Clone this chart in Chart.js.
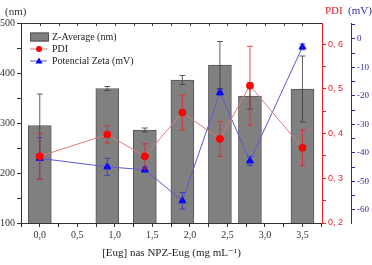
<!DOCTYPE html>
<html>
<head>
<meta charset="utf-8">
<script src="https://cdn.jsdelivr.net/npm/chart.js@4.4.1/dist/chart.umd.min.js"></script>
<style>
  html, body { margin: 0; padding: 0; background: #fff; }
  canvas { display: block; }
</style>
</head>
<body>
<canvas id="grafico" width="372" height="265"></canvas>
<script>
// concentrations of Eug (mg/mL)
var concentracoes = [0.0, 0.9, 1.4, 1.9, 2.4, 2.8, 3.5];

var zAverage    = [295, 369, 286, 386, 416, 354, 368];
var zAverageErr = [63, 4, 4, 9, 47, 26, 66];

var pdi    = [0.349, 0.398, 0.349, 0.447, 0.388, 0.507, 0.368];
var pdiErr = [0.052, 0.019, 0.028, 0.039, 0.039, 0.088, 0.040];

var zeta    = [-41.9, -44.9, -45.9, -56.8, -18.8, -42.8, -2.8];
var zetaErr = [7.3, 3.0, 1.0, 2.9, 1.0, 1.6, 1.0];

var legendaTextos = ['Z-Average (nm)', 'PDI', 'Potencial Zeta (mV)'];

var SERIF = '"Liberation Serif", "DejaVu Serif", serif';
var CINZA = '#333333';
var VERMELHO = '#e8202a';
var AZUL = '#2a2ab0';

function pontos(ys) {
    return concentracoes.map(function(x, i) { return { x: x, y: ys[i] }; });
}

var errosPorDataset = [
    { erro: zAverageErr, cor: '#3a3a3a' },
    { erro: pdiErr, cor: VERMELHO },
    { erro: zetaErr, cor: '#3030d0' }
];

// error bars drawn right after each dataset
var errorBarsPlugin = {
    id: 'errorBars',
    afterDatasetDraw: function(chart, args) {
        var info = errosPorDataset[args.index];
        if (!info) return;
        var ds = chart.data.datasets[args.index];
        var xs = chart.scales.x;
        var ys = chart.scales[ds.yAxisID];
        var ctx = chart.ctx;
        ctx.save();
        ctx.strokeStyle = info.cor;
        ctx.lineWidth = 0.8;
        ds.data.forEach(function(p, i) {
            var px = xs.getPixelForValue(p.x);
            var y1 = ys.getPixelForValue(p.y + info.erro[i]);
            var y2 = ys.getPixelForValue(p.y - info.erro[i]);
            ctx.beginPath();
            ctx.moveTo(px, y1); ctx.lineTo(px, y2);
            ctx.moveTo(px - 3, y1); ctx.lineTo(px + 3, y1);
            ctx.moveTo(px - 3, y2); ctx.lineTo(px + 3, y2);
            ctx.stroke();
        });
        ctx.restore();
    }
};

// top frame line, axis headings and legend inside the plot
var decoracaoPlugin = {
    id: 'decoracao',
    afterDraw: function(chart) {
        var ctx = chart.ctx;
        var a = chart.chartArea;
        var xs = chart.scales.x;
        ctx.save();
        ctx.strokeStyle = CINZA;
        ctx.lineWidth = 1;
        ctx.beginPath();
        ctx.moveTo(a.left, a.top + 0.5); ctx.lineTo(a.right, a.top + 0.5);
        xs.ticks.forEach(function(t) {
            var px = Math.round(xs.getPixelForValue(t.value)) + 0.5;
            if (px <= a.left + 1 || px >= a.right - 1) return;
            ctx.moveTo(px, a.top); ctx.lineTo(px, a.top + 3);
        });
        ctx.stroke();

        ctx.font = '11px ' + SERIF;
        ctx.textBaseline = 'middle';
        ctx.fillStyle = CINZA;
        ctx.textAlign = 'left';
        ctx.fillText('(nm)', 5, 12);
        ctx.fillStyle = VERMELHO;
        ctx.fillText('PDI', 325, 11);
        ctx.fillStyle = AZUL;
        ctx.fillText('(mV)', 348, 11);

        // legend
        var lx = a.left + 9, ly = a.top + 14;
        ctx.font = '10px ' + SERIF;
        ctx.fillStyle = '#808080';
        ctx.strokeStyle = '#505050';
        ctx.fillRect(lx, ly - 4.5, 19, 9);
        ctx.strokeRect(lx + 0.5, ly - 4, 18, 8);
        ctx.fillStyle = '#222';
        ctx.fillText(legendaTextos[0], lx + 22, ly);

        var y2 = ly + 12;
        ctx.strokeStyle = '#e07070';
        ctx.beginPath(); ctx.moveTo(lx, y2); ctx.lineTo(lx + 17, y2); ctx.stroke();
        ctx.fillStyle = '#ff0000';
        ctx.beginPath(); ctx.arc(lx + 9, y2, 3, 0, Math.PI * 2); ctx.fill();
        ctx.fillStyle = '#222';
        ctx.fillText(legendaTextos[1], lx + 22, y2);

        var y3 = ly + 24;
        ctx.strokeStyle = '#5a5ad0';
        ctx.beginPath(); ctx.moveTo(lx, y3); ctx.lineTo(lx + 17, y3); ctx.stroke();
        ctx.fillStyle = '#0000ff';
        ctx.beginPath();
        ctx.moveTo(lx + 9, y3 - 3.5); ctx.lineTo(lx + 12.5, y3 + 2.5); ctx.lineTo(lx + 5.5, y3 + 2.5);
        ctx.closePath(); ctx.fill();
        ctx.fillStyle = '#222';
        ctx.fillText(legendaTextos[2], lx + 22, y3);
        ctx.restore();
    }
};

var ctx = document.getElementById('grafico').getContext('2d');

var grafico = new Chart(ctx, {
    type: 'bar',
    data: {
        datasets: [{
            type: 'bar',
            label: legendaTextos[0],
            data: pontos(zAverage),
            yAxisID: 'y',
            backgroundColor: '#808080',
            borderColor: '#555555',
            borderWidth: 1,
            barThickness: 23,
            order: 3
        }, {
            type: 'line',
            label: legendaTextos[1],
            data: pontos(pdi),
            yAxisID: 'yPdi',
            borderColor: '#e07878',
            borderWidth: 1,
            pointBackgroundColor: '#ff0000',
            pointBorderColor: '#ff0000',
            pointRadius: 3.5,
            pointStyle: 'circle',
            order: 1
        }, {
            type: 'line',
            label: legendaTextos[2],
            data: pontos(zeta),
            yAxisID: 'yZeta',
            borderColor: '#5a5ad0',
            borderWidth: 1,
            pointBackgroundColor: '#0000ff',
            pointBorderColor: '#0000ff',
            pointRadius: 4,
            pointStyle: 'triangle',
            order: 2
        }]
    },
    options: {
        responsive: false,
        animation: false,
        layout: { padding: { top: 23, left: 0, right: 0, bottom: 0 } },
        plugins: {
            legend: { display: false },
            tooltip: { enabled: false }
        },
        scales: {
            x: {
                type: 'linear',
                position: 'bottom',
                min: -0.25,
                max: 3.76,
                offset: false,
                grid: { display: true, drawOnChartArea: false, tickLength: 4, color: CINZA, offset: false },
                border: { display: true, color: CINZA, width: 1 },
                ticks: {
                    stepSize: 0.25,
                    includeBounds: false,
                    autoSkip: false,
                    maxRotation: 0,
                    padding: 2,
                    color: CINZA,
                    font: { family: SERIF, size: 10 },
                    callback: function(v) {
                        if (v < 0) return '';
                        return Math.abs(v * 2 - Math.round(v * 2)) < 1e-6 ? v.toFixed(1).replace('.', ',') : '';
                    }
                },
                title: {
                    display: true,
                    text: '[Eug] nas NPZ-Eug (mg mL\u207B\u00B9)',
                    color: '#222',
                    font: { family: SERIF, size: 11 },
                    padding: { top: 4, bottom: 5 }
                },
                afterFit: function(s) { s.height = 42; }
            },
            y: {
                position: 'left',
                min: 100,
                max: 500,
                grid: { display: true, drawOnChartArea: false, tickLength: 4, color: CINZA },
                border: { display: true, color: CINZA, width: 1 },
                ticks: {
                    stepSize: 50,
                    autoSkip: false,
                    padding: 2,
                    color: CINZA,
                    font: { family: SERIF, size: 10 },
                    callback: function(v) { return v % 100 === 0 ? String(v) : ''; }
                },
                afterFit: function(s) { s.width = 21; }
            },
            yPdi: {
                position: 'right',
                min: 0.2,
                max: 0.647,
                grid: { display: true, drawOnChartArea: false, tickLength: 4, color: VERMELHO },
                border: { display: true, color: VERMELHO, width: 1 },
                ticks: {
                    stepSize: 0.05,
                    includeBounds: false,
                    autoSkip: false,
                    padding: 2,
                    color: VERMELHO,
                    font: { family: '"Liberation Sans", Arial, sans-serif', size: 9 },
                    callback: function(v) {
                        var d = v * 10;
                        return Math.abs(d - Math.round(d)) < 1e-6 ? '0, ' + Math.round(d) : '';
                    }
                },
                afterFit: function(s) { s.width = 29; }
            },
            yZeta: {
                position: 'right',
                min: -64.6,
                max: 5.6,
                grid: { display: true, drawOnChartArea: false, tickLength: 4, color: AZUL },
                border: { display: true, color: AZUL, width: 1 },
                ticks: {
                    stepSize: 5,
                    includeBounds: false,
                    autoSkip: false,
                    padding: 2,
                    color: AZUL,
                    font: { family: SERIF, size: 9 },
                    callback: function(v) {
                        return Math.round(v) % 10 === 0 ? String(Math.round(v)) : '';
                    }
                },
                afterFit: function(s) { s.width = 21; }
            }
        }
    },
    plugins: [errorBarsPlugin, decoracaoPlugin]
});
</script>
</body>
</html>
